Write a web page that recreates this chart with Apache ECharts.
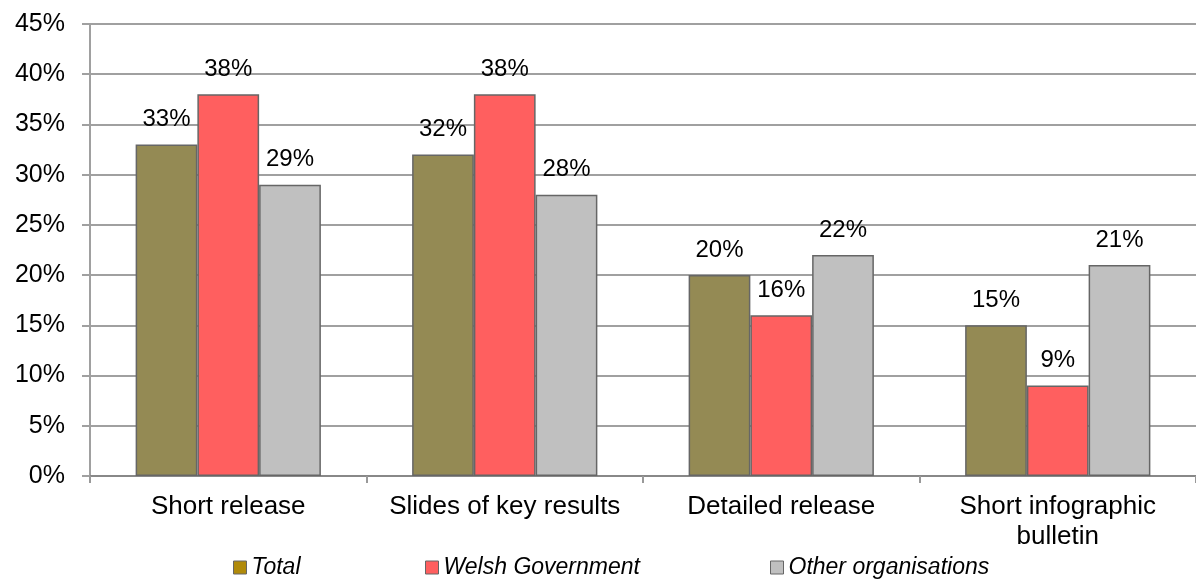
<!DOCTYPE html>
<html>
<head>
<meta charset="utf-8">
<script src="https://cdn.jsdelivr.net/npm/echarts@6/dist/echarts.min.js"></script>
<style>html,body{margin:0;padding:0;background:#fff}#c{width:1196px;height:579px}</style>
</head>
<body>
<div id="c"></div>
<script>
const categories = ['Short release', 'Slides of key results', 'Detailed release', 'Short infographic\nbulletin'];
const seriesNames = ['Total', 'Welsh Government', 'Other organisations'];
const totalValues = [33, 32, 20, 15];
const welshValues = [38, 38, 16, 9];
const otherValues = [29, 28, 22, 21];
const yTicks = [0, 5, 10, 15, 20, 25, 30, 35, 40, 45];

const barColors = ['#948A54', '#FF5F5F', '#C0C0C0'];
const legendColors = ['#B08A0A', '#FF5F5F', '#C0C0C0'];
const values = [totalValues, welshValues, otherValues];
const font = 'Liberation Sans, Arial, sans-serif';

const chart = echarts.init(document.getElementById('c'));
const legendLefts = [233, 425, 770];
chart.setOption({
  animation: false,
  backgroundColor: '#fff',
  grid: { left: 90, top: 24, width: 1114, height: 452, containLabel: false },
  legend: seriesNames.map((n, i) => ({
    data: [{ name: n, itemStyle: { color: legendColors[i], borderColor: '#666', borderWidth: 1 } }],
    left: legendLefts[i], top: 556, itemWidth: 13, itemHeight: 13, itemGap: 4,
    padding: 0,
    icon: 'rect',
    textStyle: { fontFamily: font, fontSize: 23, fontStyle: 'italic', color: '#000' }
  })),
  xAxis: {
    type: 'category', data: categories,
    axisLine: { show: true, lineStyle: { color: '#888', width: 2 } },
    axisTick: { show: true, interval: 0, length: 7, lineStyle: { color: '#999', width: 2 } },
    axisLabel: { interval: 0, hideOverlap: false, fontFamily: font, fontSize: 26, color: '#000', margin: 16, lineHeight: 30 }
  },
  yAxis: {
    type: 'value', min: 0, max: 45, interval: 5,
    axisLine: { show: true, lineStyle: { color: '#a0a0a0', width: 2 } },
    axisTick: { show: true, length: 8, lineStyle: { color: '#a0a0a0', width: 2 } },
    splitLine: { show: true, lineStyle: { color: '#a0a0a0', width: 2 } },
    axisLabel: { fontFamily: font, fontSize: 25, color: '#000', margin: 25,
      formatter: v => yTicks.includes(v) ? v + '%' : '' }
  },
  series: seriesNames.map((n, i) => ({
    name: n, type: 'bar', data: values[i],
    barGap: '0%', barCategoryGap: '33%',
    itemStyle: { color: barColors[i], borderColor: '#666', borderWidth: 1.5 },
    label: { show: true, position: 'top', distance: 13, fontFamily: font, fontSize: 24, color: '#000',
      formatter: p => p.value + '%' }
  }))
});
</script>
</body>
</html>
